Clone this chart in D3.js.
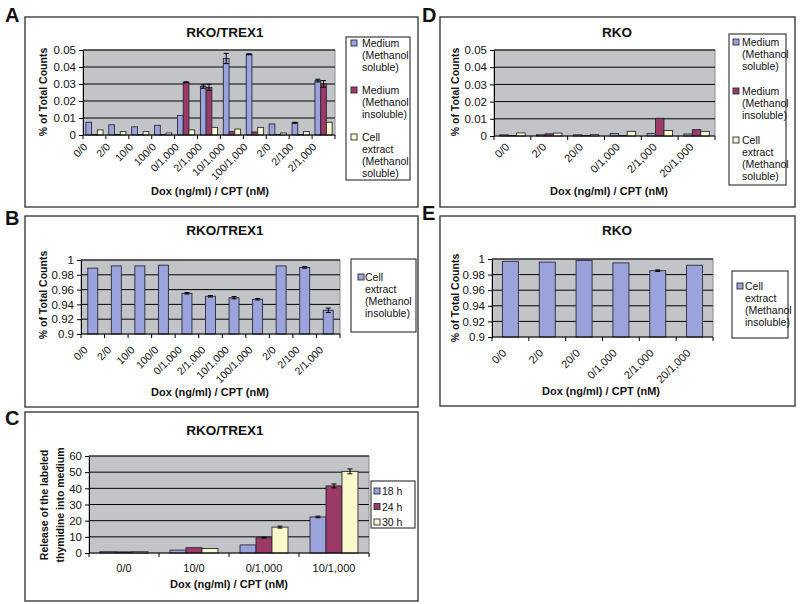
<!DOCTYPE html>
<html><head><meta charset="utf-8">
<script src="https://cdn.jsdelivr.net/npm/d3@7"></script>
<style>body{margin:0;background:#fff} text{font-family:"Liberation Sans",Arial,sans-serif;fill:#111}</style>
</head><body><svg id="c" width="800" height="604"></svg>
<script>
// ---------- DATA ----------
const catsA = ["0/0","2/0","10/0","100/0","0/1,000","2/1,000","10/1,000","100/1,000","2/0","2/100","2/1,000"];
const medSolA   = [0.0075,0.006,0.0048,0.0057,0.0115,0.0285,0.045,0.0475,0.0065,0.0072,0.032];
const medSolErrA= [0,0,0,0,0,0.001,0.003,0.0003,0,0.0003,0.0008];
const medInsA   = [0.0003,0.0003,0.0002,0.0003,0.031,0.028,0.002,0.0018,0.0003,0.0003,0.030];
const medInsErrA= [0,0,0,0,0.0003,0.0018,0,0,0,0,0.002];
const cellSolA  = [0.003,0.002,0.002,0.0012,0.003,0.0045,0.0035,0.0045,0.0012,0.002,0.0075];
const cellSolErrA=[0,0,0,0,0,0,0,0,0,0,0];

const catsB = ["0/0","2/0","10/0","100/0","0/1,000","2/1,000","10/1,000","100/1,000","2/0","2/100","2/1,000"];
const cellInsB    = [0.989,0.992,0.992,0.993,0.955,0.951,0.949,0.947,0.992,0.990,0.932];
const cellInsErrB = [0,0,0,0,0.001,0.001,0.0015,0.001,0,0.001,0.003];

const catsC = ["0/0","10/0","0/1,000","10/1,000"];
const h18C = [0.8,1.8,5,22.3];
const h18ErrC = [0,0,0,0.5];
const h24C = [0.7,3.3,9.5,41.5];
const h24ErrC = [0,0,0.3,1.2];
const h30C = [0.8,2.8,16,50.5];
const h30ErrC = [0,0,0.6,1.5];

const catsD = ["0/0","2/0","20/0","0/1,000","2/1,000","20/1,000"];
const medSolD  = [0.0007,0.0007,0.0007,0.0015,0.0015,0.0012];
const medInsD  = [0.0003,0.0013,0.0003,0.0003,0.0103,0.0037];
const cellSolD = [0.0018,0.0017,0.0008,0.0027,0.0032,0.0027];
const zeroD    = [0,0,0,0,0,0];

const catsE = ["0/0","2/0","20/0","0/1,000","2/1,000","20/1,000"];
const cellInsE    = [0.997,0.996,0.998,0.995,0.985,0.992];
const cellInsErrE = [0,0,0,0,0.001,0];

const ticksSmall = [0,0.01,0.02,0.03,0.04,0.05];
const ticksHigh  = [0.9,0.92,0.94,0.96,0.98,1];
const ticksC     = [0,10,20,30,40,50,60];

const nameMedSol  = ["Medium","(Methanol","soluble)"];
const nameMedIns  = ["Medium","(Methanol","insoluble)"];
const nameCellSol = ["Cell","extract","(Methanol","soluble)"];
const nameCellIns = ["Cell","extract","(Methanol","insoluble)"];
const xTitle = "Dox (ng/ml) / CPT (nM)";
const yTitleCounts = ["% of Total Counts"];
const yTitleC = ["Release of the labeled","thymidine into medium"];

const BLUE="#9ba3dc", RED="#9b3a66", YEL="#fbf9cc";
// ---------- DRAW ----------
const svg = d3.select("#c");
const fmtSmall = d => d===0 ? "0" : d3.format(".2f")(d);
const fmtHigh  = d => d===1 ? "1" : (Math.abs(d-0.9)<1e-9 ? "0.9" : d3.format(".2f")(d));
const fmtInt   = d => String(d);

function panel(o){
  const g = svg.append("g");
  g.append("rect").attr("x",o.box[0]).attr("y",o.box[1]).attr("width",o.box[2]-o.box[0]).attr("height",o.box[3]-o.box[1])
    .attr("fill","#fff").attr("stroke","#3c3c3c").attr("stroke-width",1.4);
  g.append("text").attr("x",o.letter[0]).attr("y",o.letter[1]).attr("font-size",20).attr("font-weight","bold").text(o.letterText);
  g.append("text").attr("x",o.titlePos[0]).attr("y",o.titlePos[1]).attr("text-anchor","middle")
    .attr("font-size",13.5).attr("font-weight","bold").text(o.title);
  const [px0,py0,px1,py1] = o.plot;
  const x = d3.scaleBand().domain(d3.range(o.cats.length)).range([px0,px1]);
  const xs = d3.scaleBand().domain(d3.range(o.series.length)).range([0,x.bandwidth()]).paddingOuter(o.pad);
  const y = d3.scaleLinear().domain(o.ydom).range([py1,py0]);
  g.append("rect").attr("x",px0).attr("y",py0).attr("width",px1-px0).attr("height",py1-py0)
    .attr("fill","#c2c4c7").attr("stroke","#8a8a8a").attr("stroke-width",1);
  g.selectAll(".grid").data(o.yticks.slice(1)).join("line")
    .attr("x1",px0).attr("x2",px1).attr("y1",d=>y(d)).attr("y2",d=>y(d))
    .attr("stroke","#000").attr("stroke-width",1);
  o.series.forEach((s,si)=>{
    g.selectAll(null).data(s.values).join("rect")
      .attr("x",(d,i)=>x(i)+xs(si)).attr("width",xs.bandwidth())
      .attr("y",d=>y(Math.max(d,o.ydom[0]))).attr("height",d=>y(o.ydom[0])-y(Math.max(d,o.ydom[0])))
      .attr("fill",s.color).attr("stroke","#2a2a3a").attr("stroke-width",0.9);
    s.err.forEach((e,i)=>{
      if(!e) return;
      const cx = x(i)+xs(si)+xs.bandwidth()/2, v=s.values[i];
      g.append("line").attr("x1",cx).attr("x2",cx).attr("y1",y(v+e)).attr("y2",y(v-e)).attr("stroke","#000").attr("stroke-width",1);
      [v+e,v-e].forEach(t=>g.append("line").attr("x1",cx-2.5).attr("x2",cx+2.5).attr("y1",y(t)).attr("y2",y(t)).attr("stroke","#000").attr("stroke-width",1));
    });
  });
  // y axis
  const ya = g.append("g").attr("transform",`translate(${px0},0)`)
    .call(d3.axisLeft(y).tickValues(o.yticks).tickFormat(o.fmt).tickSize(4).tickPadding(3).tickSizeOuter(0));
  ya.selectAll("text").attr("font-size",11.5).style("font-family",'"Liberation Sans",Arial,sans-serif').attr("fill","#111");
  ya.selectAll("line,path").attr("stroke","#000");
  // x axis
  g.append("line").attr("x1",px0).attr("x2",px1).attr("y1",py1).attr("y2",py1).attr("stroke","#000");
  g.selectAll(".xt").data(d3.range(o.cats.length+1)).join("line")
    .attr("x1",i=>px0+i*x.step()).attr("x2",i=>px0+i*x.step()).attr("y1",py1).attr("y2",py1+4).attr("stroke","#000");
  o.cats.forEach((c,i)=>{
    const cx = x(i)+x.bandwidth()/2;
    if(o.rot){
      g.append("text").attr("text-anchor","end").attr("dy","0.35em").attr("font-size",o.xfs||10.5)
        .attr("transform",`translate(${cx+o.lab[0]},${py1+o.lab[1]}) rotate(-45)`).text(c);
    } else {
      g.append("text").attr("text-anchor","middle").attr("font-size",11).attr("x",cx).attr("y",py1+o.lab[1]).text(c);
    }
  });
  g.append("text").attr("x",o.xTitlePos[0]).attr("y",o.xTitlePos[1]).attr("text-anchor","middle")
    .attr("font-size",11).attr("font-weight","bold").text(xTitle);
  o.yTitle.forEach((t,k)=>{
    g.append("text").attr("text-anchor","middle").attr("font-size",o.ytfs||10.5).attr("font-weight","bold")
      .attr("transform",`translate(${o.yTitlePos[0]+k*o.yTitleStep},${o.yTitlePos[1]}) rotate(-90)`).attr("dy","0.35em").text(t);
  });
  // legend
  const L=o.legend;
  g.append("rect").attr("x",L.box[0]).attr("y",L.box[1]).attr("width",L.box[2]-L.box[0]).attr("height",L.box[3]-L.box[1])
    .attr("fill","#fff").attr("stroke","#3c3c3c").attr("stroke-width",1.2);
  o.series.forEach((s,si)=>{
    const y0 = L.y0 + si*L.step;
    g.append("rect").attr("x",L.mx).attr("y",y0-7).attr("width",6).attr("height",6)
      .attr("fill",s.color).attr("stroke","#2a2a3a").attr("stroke-width",0.9);
    s.name.forEach((t,k)=>{
      g.append("text").attr("x",L.tx).attr("y",y0+k*L.lh).attr("font-size",10.5).text(t);
    });
  });
}

panel({letterText:"A",letter:[5,22],box:[25,17,418,207],title:"RKO/TREX1",titlePos:[225,37],
  plot:[83,50,335,135],ydom:[0,0.05],yticks:ticksSmall,fmt:fmtSmall,cats:catsA,pad:0.5,
  series:[{values:medSolA,err:medSolErrA,color:BLUE,name:nameMedSol},
          {values:medInsA,err:medInsErrA,color:RED,name:nameMedIns},
          {values:cellSolA,err:cellSolErrA,color:YEL,name:nameCellSol}],
  rot:true,lab:[-9,10],xTitlePos:[210,195],yTitle:yTitleCounts,yTitlePos:[43,92],yTitleStep:0,
  legend:{box:[346,37,410,180],mx:351,tx:362,y0:47,step:47,lh:12}});

panel({letterText:"B",letter:[5,225],box:[25,216,418,407],title:"RKO/TREX1",titlePos:[225,235],
  plot:[81,260,340,334],ydom:[0.9,1],yticks:ticksHigh,fmt:fmtHigh,cats:catsB,pad:0.68,
  series:[{values:cellInsB,err:cellInsErrB,color:BLUE,name:nameCellIns}],
  rot:true,lab:[-7,14],xTitlePos:[210,396],yTitle:yTitleCounts,yTitlePos:[43,295],yTitleStep:0,
  legend:{box:[351,259,416,332],mx:358,tx:365,y0:281,step:0,lh:12}});

panel({letterText:"C",letter:[5,425],box:[25,412,418,601],title:"RKO/TREX1",titlePos:[225,435],
  plot:[89,456,369,553],ydom:[0,60],yticks:ticksC,fmt:fmtInt,cats:catsC,pad:0.69,
  series:[{values:h18C,err:h18ErrC,color:BLUE,name:["18 h"]},
          {values:h24C,err:h24ErrC,color:RED,name:["24 h"]},
          {values:h30C,err:h30ErrC,color:YEL,name:["30 h"]}],
  rot:false,lab:[0,19],xTitlePos:[229,588],yTitle:yTitleC,yTitlePos:[44,505],yTitleStep:16,
  legend:{box:[371,481,415,528],mx:374,tx:382,y0:495,step:15.5,lh:12}});

panel({letterText:"D",letter:[422,22],box:[440,17,795,207],title:"RKO",titlePos:[617,37],
  plot:[494,50,715,136],ydom:[0,0.05],yticks:ticksSmall,fmt:fmtSmall,cats:catsD,pad:0.67,
  series:[{values:medSolD,err:zeroD,color:BLUE,name:nameMedSol},
          {values:medInsD,err:zeroD,color:RED,name:nameMedIns},
          {values:cellSolD,err:zeroD,color:YEL,name:nameCellSol}],
  rot:true,lab:[-5,9],xfs:11,xTitlePos:[609,195],yTitle:yTitleCounts,yTitlePos:[455,92],yTitleStep:0,
  legend:{box:[729,34,786,185],mx:733,tx:742,y0:46,step:49,lh:12}});

panel({letterText:"E",letter:[422,220],box:[440,216,795,406],title:"RKO",titlePos:[617,235],
  plot:[492,259,713,337],ydom:[0.9,1],yticks:ticksHigh,fmt:fmtHigh,cats:catsE,pad:0.65,
  series:[{values:cellInsE,err:cellInsErrE,color:BLUE,name:nameCellIns}],
  rot:true,lab:[-6,14],xfs:11,xTitlePos:[601,395],yTitle:yTitleCounts,yTitlePos:[455,298],yTitleStep:0,
  legend:{box:[732,271,788,338],mx:737,tx:745,y0:290,step:0,lh:12}});
</script></body></html>
